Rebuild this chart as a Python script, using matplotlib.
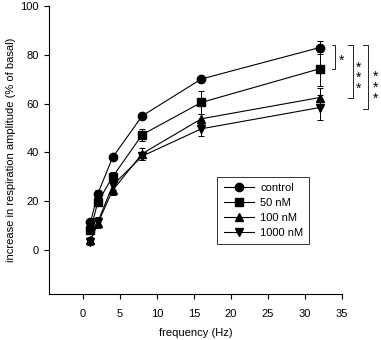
import matplotlib.pyplot as plt
import numpy as np

plt.rcParams['font.family'] = ['Liberation Sans', 'DejaVu Sans']

freq = [1, 2, 4, 8, 16, 32]
labels = ['control', '50 nM', '100 nM', '1000 nM']
markers = ['o', 's', '^', 'v']

control = [11.3, 23.1, 38.0, 55.0, 70.1, 83.0]
nm50 = [8.2, 19.7, 30.0, 47.3, 60.5, 74.3]
nm100 = [4.0, 11.0, 24.5, 39.5, 53.8, 62.5]
nm1000 = [3.4, 11.5, 26.5, 38.5, 49.7, 58.4]

control_err = [1.5, 1.5, 1.2, 1.0, 1.0, 2.8]
nm50_err = [1.5, 1.5, 2.0, 2.5, 4.8, 7.0]
nm100_err = [1.5, 2.0, 2.0, 2.5, 2.0, 4.0]
nm1000_err = [1.5, 2.0, 2.0, 1.5, 3.0, 5.0]

series = [control, nm50, nm100, nm1000]
errors = [control_err, nm50_err, nm100_err, nm1000_err]

fig = plt.figure(figsize=(3.81, 3.40), dpi=100)
ax = fig.add_axes([0.1286, 0.1353, 0.769, 0.847])

handles = []
for vals, err, lab, m in zip(series, errors, labels, markers):
    ax.errorbar(freq, vals, yerr=err, color='black', fmt='none',
                elinewidth=0.7, capsize=2, capthick=0.7)
    h, = ax.plot(freq, vals, color='black', marker=m, markersize=6,
                 linewidth=0.8, label=lab)
    handles.append(h)

ax.set_xlim(-4.6, 35)
ax.set_ylim(-18, 100)
ax.set_xticks([0, 5, 10, 15, 20, 25, 30, 35])
ax.set_yticks([0, 20, 40, 60, 80, 100])
for s in ['top', 'right']:
    ax.spines[s].set_visible(False)
for s in ['left', 'bottom']:
    ax.spines[s].set_linewidth(0.8)
ax.tick_params(axis='x', direction='out', length=3.5, width=0.8, pad=7, labelsize=8)
ax.tick_params(axis='y', direction='out', length=3.5, width=0.8, pad=4, labelsize=8)
ax.set_xlabel('frequency (Hz)', fontsize=8, labelpad=7)
ax.set_ylabel('increase in respiration amplitude (% of basal)', fontsize=8, labelpad=3)

leg = ax.legend(handles=handles, loc='upper left', bbox_to_anchor=(0.556, 0.427),
                fontsize=8, frameon=True, fancybox=False, edgecolor='black',
                handlelength=2.7, handletextpad=0.6, labelspacing=0.45,
                borderpad=0.55)
leg.get_frame().set_linewidth(0.7)

# significance brackets
brackets = [(33.7, 34.1, 84.0, 74.3, 34.9, 77.5, '*'),
            (35.8, 36.5, 84.0, 62.4, 37.2, 70.5, '*\n*\n*'),
            (37.9, 38.5, 84.0, 58.0, 39.5, 66.5, '*\n*\n*')]
for x0, x1, ytop, ybot, xs, ys, txt in brackets:
    ax.plot([x0, x1, x1, x0], [ytop, ytop, ybot, ybot], color='black',
            linewidth=0.6, clip_on=False)
    ax.text(xs, ys, txt, ha='center', va='center', fontsize=10,
            linespacing=0.7, clip_on=False)

fig.savefig('out.png', dpi=100)
